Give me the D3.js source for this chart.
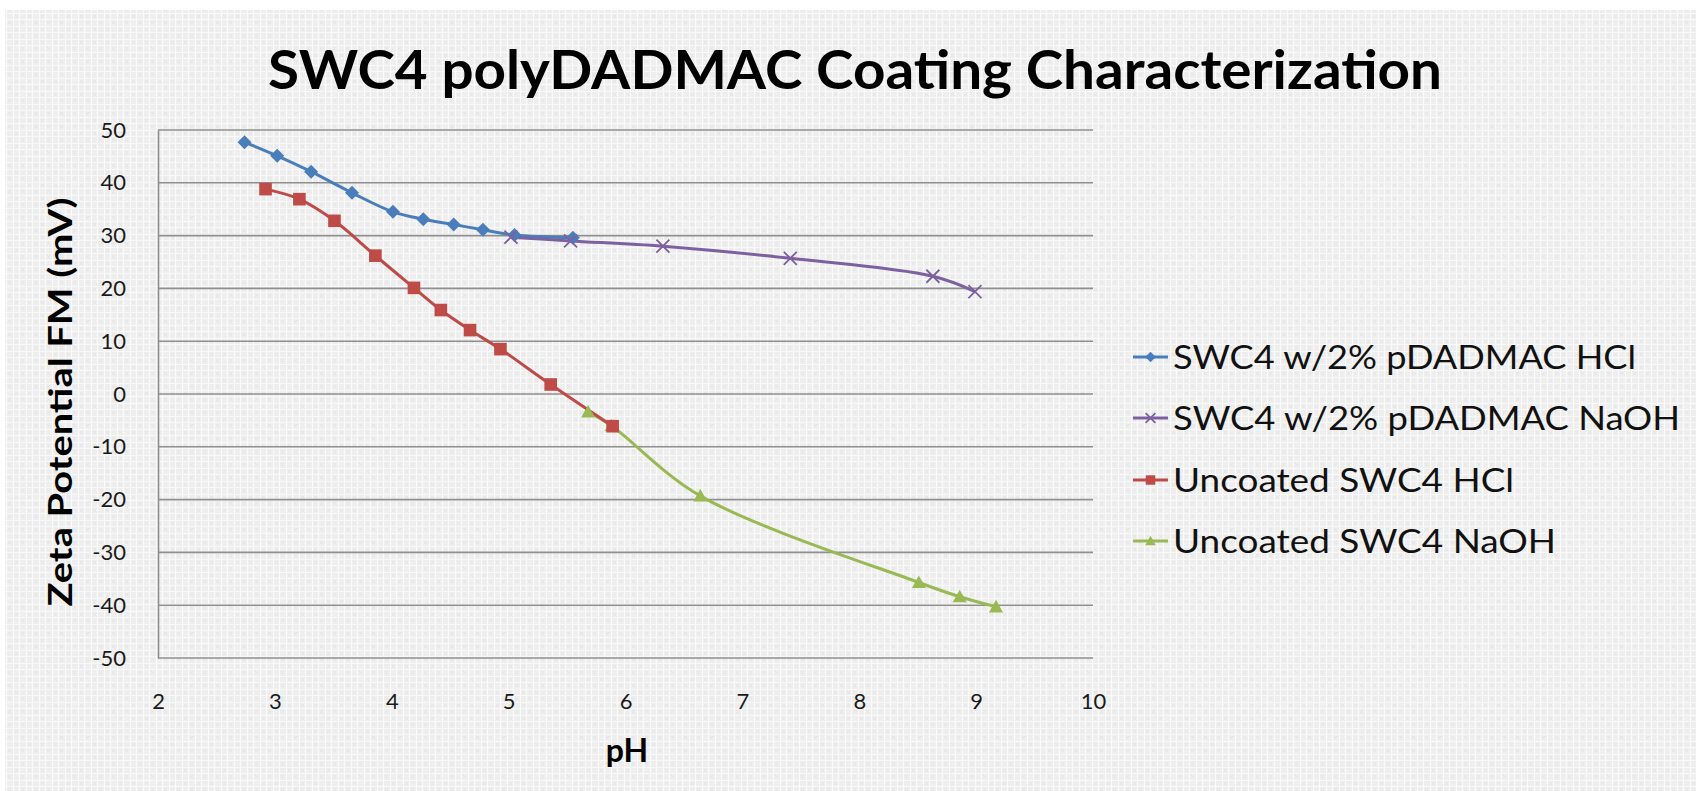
<!DOCTYPE html>
<html>
<head>
<meta charset="utf-8">
<script src="https://cdn.jsdelivr.net/npm/d3@7/dist/d3.min.js"></script>
<style>
html,body{margin:0;padding:0;background:#fff;}
svg{display:block;}
text{font-family:Lato,"Open Sans",sans-serif;}
</style>
</head>
<body>
<svg id="chart" width="1696" height="791"></svg>
<script>
// ---- data ----
const titleText = "SWC4 polyDADMAC Coating Characterization";
const xLabel = "pH";
const yLabel = "Zeta Potential FM (mV)";
const xTicks = [2, 3, 4, 5, 6, 7, 8, 9, 10];
const yTicks = [50, 40, 30, 20, 10, 0, -10, -20, -30, -40, -50];

const seriesNames = ["SWC4 w/2% pDADMAC HCl", "SWC4 w/2% pDADMAC NaOH", "Uncoated SWC4 HCl", "Uncoated SWC4 NaOH"];
const seriesColors = ["#4a7ebb", "#7d60a0", "#be4b48", "#98b954"];
const seriesMarkers = ["diamond", "x", "square", "triangle"];

const coatedHClPH = [2.74, 3.02, 3.31, 3.66, 4.01, 4.27, 4.53, 4.78, 5.05, 5.55];
const coatedHClZeta = [47.7, 45.1, 42.1, 38.1, 34.5, 33.1, 32.1, 31.1, 30.1, 29.6];

const coatedNaOHPH = [5.02, 5.53, 6.32, 7.41, 8.63, 8.99];
const coatedNaOHZeta = [29.7, 29.0, 28.0, 25.7, 22.3, 19.4];

const uncoatedHClPH = [2.92, 3.21, 3.51, 3.86, 4.19, 4.42, 4.67, 4.93, 5.36, 5.89];
const uncoatedHClZeta = [38.8, 36.9, 32.8, 26.2, 20.1, 15.9, 12.1, 8.5, 1.8, -6.1];

const uncoatedNaOHPH = [5.68, 5.88, 6.64, 8.51, 8.86, 9.17];
const uncoatedNaOHZeta = [-3.4, -6.0, -19.3, -35.7, -38.4, -40.3];

// ---- build ----
const series = [
  {name: seriesNames[0], color: seriesColors[0], marker: seriesMarkers[0], x: coatedHClPH, y: coatedHClZeta},
  {name: seriesNames[1], color: seriesColors[1], marker: seriesMarkers[1], x: coatedNaOHPH, y: coatedNaOHZeta},
  {name: seriesNames[2], color: seriesColors[2], marker: seriesMarkers[2], x: uncoatedHClPH, y: uncoatedHClZeta},
  {name: seriesNames[3], color: seriesColors[3], marker: seriesMarkers[3], x: uncoatedNaOHPH, y: uncoatedNaOHZeta}
];
const drawOrder = [0, 1, 3, 2];

const svg = d3.select("#chart");
const W = 1696, H = 791;

// background pattern
const defs = svg.append("defs");
const pat = defs.append("pattern").attr("id", "bgpat").attr("patternUnits", "userSpaceOnUse")
  .attr("width", 13).attr("height", 13);
pat.append("rect").attr("width", 13).attr("height", 13).attr("fill", "#eeeeee");
pat.append("path").attr("d", "M0,0.5H13M0,6.5H13").attr("stroke", "#f8f8f8").attr("stroke-width", 1.2);
pat.append("path").attr("d", "M0.5,0V13M6.5,0V13").attr("stroke", "#fafafa").attr("stroke-width", 1.2);
pat.append("path").attr("d", "M2,2L5,5M5,2L2,5M8,8L11,11M11,8L8,11").attr("stroke", "#e2e2e2").attr("stroke-width", 0.8);

svg.append("rect").attr("x", 0).attr("y", 0).attr("width", W).attr("height", H).attr("fill", "#ffffff");
svg.append("rect").attr("x", 5).attr("y", 10).attr("width", W - 5).attr("height", H - 10).attr("fill", "url(#bgpat)");

const x = d3.scaleLinear().domain([2, 10]).range([158, 1093]);
const y = d3.scaleLinear().domain([-50, 50]).range([658, 130]);

// title
svg.append("text").attr("x", 268).attr("y", 89)
  .attr("font-size", 54).attr("font-weight", "bold").attr("fill", "#000")
  .attr("textLength", 1174).attr("lengthAdjust", "spacingAndGlyphs")
  .text(titleText);

// gridlines
const grid = svg.append("g");
grid.selectAll("line").data(yTicks).join("line")
  .attr("x1", x(2)).attr("x2", x(10))
  .attr("y1", d => y(d)).attr("y2", d => y(d))
  .attr("stroke", "#8f8f8f").attr("stroke-width", 1.6);

const fmt = d => String(d);

// y axis
const yAxis = svg.append("g").attr("transform", `translate(${x(2)},0)`)
  .call(d3.axisLeft(y).tickValues(yTicks).tickSize(0).tickPadding(32).tickFormat(fmt));
yAxis.select(".domain").attr("stroke", "#8f8f8f").attr("stroke-width", 1.6);
yAxis.selectAll("text").attr("font-size", 22).attr("fill", "#1a1a1a").attr("font-family", "Lato, sans-serif");

// x axis (labels only)
const xAxis = svg.append("g").attr("transform", `translate(0,${y(-50)})`)
  .call(d3.axisBottom(x).tickValues(xTicks).tickSize(0).tickPadding(35).tickFormat(fmt));
xAxis.select(".domain").remove();
xAxis.selectAll("text").attr("font-size", 22).attr("fill", "#1a1a1a").attr("font-family", "Lato, sans-serif");

// axis titles
svg.append("text").attr("x", 627).attr("y", 762).attr("text-anchor", "middle")
  .attr("font-size", 32).attr("font-weight", "bold").attr("fill", "#000").text(xLabel);
svg.append("text").attr("transform", "translate(72,402) rotate(-90)").attr("text-anchor", "middle")
  .attr("font-size", 32).attr("font-weight", "bold").attr("fill", "#000")
  .attr("textLength", 409).attr("lengthAdjust", "spacingAndGlyphs").text(yLabel);

// markers
function drawMarker(g, type, cx, cy, color, s) {
  if (type === "diamond") {
    g.append("path").attr("d", `M${cx},${cy - s}L${cx + s},${cy}L${cx},${cy + s}L${cx - s},${cy}Z`).attr("fill", color);
  } else if (type === "square") {
    g.append("rect").attr("x", cx - s).attr("y", cy - s).attr("width", 2 * s).attr("height", 2 * s).attr("fill", color);
  } else if (type === "triangle") {
    g.append("path").attr("d", `M${cx},${cy - s}L${cx + s},${cy + s * 0.8}L${cx - s},${cy + s * 0.8}Z`).attr("fill", color);
  } else if (type === "x") {
    g.append("path").attr("d", `M${cx - s},${cy - s}L${cx + s},${cy + s}M${cx + s},${cy - s}L${cx - s},${cy + s}`)
      .attr("stroke", color).attr("stroke-width", 1.8).attr("fill", "none");
  }
}
const markerSize = {diamond: 7, square: 6.3, triangle: 7, x: 6.5};

const line = d3.line().x(d => x(d[0])).y(d => y(d[1])).curve(d3.curveCatmullRom.alpha(0.5));
const plot = svg.append("g");
drawOrder.forEach(i => {
  const s = series[i];
  const pts = s.x.map((v, k) => [v, s.y[k]]);
  plot.append("path").attr("d", line(pts)).attr("fill", "none").attr("stroke", s.color).attr("stroke-width", 3);
});
drawOrder.forEach(i => {
  const s = series[i];
  const g = plot.append("g");
  s.x.forEach((v, k) => drawMarker(g, s.marker, x(v), y(s.y[k]), s.color, markerSize[s.marker]));
});

// legend
const legendRows = [357, 418, 480, 541];
const legendLen = [463, 507, 341, 383];
const leg = svg.append("g");
series.forEach((s, i) => {
  const ry = legendRows[i];
  leg.append("line").attr("x1", 1133).attr("x2", 1168).attr("y1", ry).attr("y2", ry)
    .attr("stroke", s.color).attr("stroke-width", 3);
  drawMarker(leg, s.marker, 1150.5, ry, s.color, markerSize[s.marker] * 0.75);
  leg.append("text").attr("x", 1173).attr("y", ry + 12).attr("font-size", 32).attr("fill", "#111")
    .attr("textLength", legendLen[i]).attr("lengthAdjust", "spacingAndGlyphs").text(s.name);
});
</script>
</body>
</html>
